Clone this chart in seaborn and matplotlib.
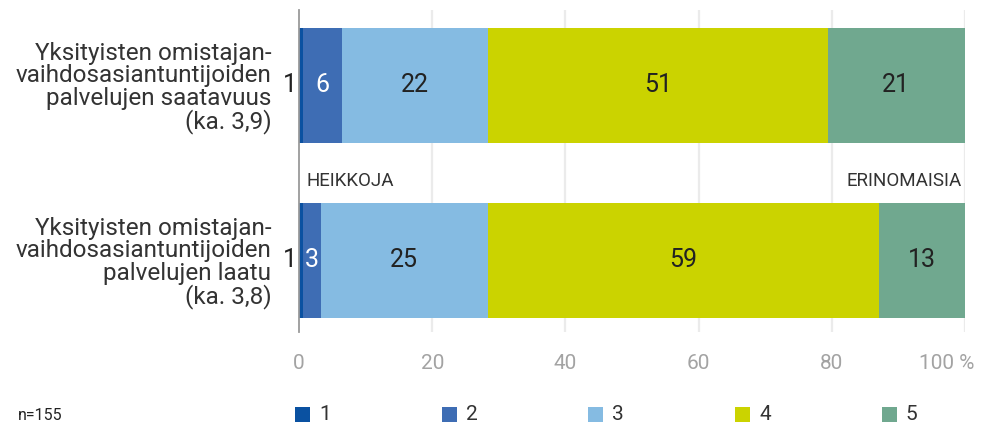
import pandas as pd
import seaborn as sns
import matplotlib.pyplot as plt
import matplotlib.transforms as mtransforms
from matplotlib.patches import Rectangle

categories = [
    "Yksityisten omistajan-\nvaihdosasiantuntijoiden\npalvelujen saatavuus\n(ka. 3,9)",
    "Yksityisten omistajan-\nvaihdosasiantuntijoiden\npalvelujen laatu\n(ka. 3,8)",
]
levels = ["1", "2", "3", "4", "5"]
share_saatavuus = [0.65, 5.81, 21.94, 50.97, 20.65]
share_laatu = [0.65, 2.58, 25.16, 58.71, 12.90]
labels_saatavuus = ["1", "6", "22", "51", "21"]
labels_laatu = ["1", "3", "25", "59", "13"]
colors = ["#0a51a1", "#3e6db4", "#85bbe2", "#cbd300", "#70a88f"]
x_ticks = [0, 20, 40, 60, 80, 100]
x_tick_labels = ["0", "20", "40", "60", "80", "100 %"]

sns.set_theme(style="white")
plt.rcParams["font.family"] = ["Roboto", "DejaVu Sans"]

rows = []
for cat, shares, labs in [(categories[0], share_saatavuus, labels_saatavuus),
                          (categories[1], share_laatu, labels_laatu)]:
    cum = 0
    for lev, s, lab in zip(levels, shares, labs):
        cum += s
        rows.append({"category": cat, "level": lev, "share": s, "cum": cum, "label": lab})
df = pd.DataFrame(rows)

fig = plt.figure(figsize=(9.89, 4.3), dpi=100)
ax = fig.add_axes([299 / 989, 1 - 332 / 430, 666 / 989, 322 / 430])

# stacked bars: draw cumulative totals from the top level down
for i in reversed(range(len(levels))):
    sub = df[df["level"] == levels[i]]
    sns.barplot(data=sub, x="cum", y="category", order=categories, color=colors[i],
                saturation=1, errorbar=None, width=0.657, linewidth=0, ax=ax)

ax.set_xlim(0, 100)
ax.set_ylim(1.409, -0.431)
ax.set_xlabel("")
ax.set_ylabel("")

for sp in ["top", "right", "bottom"]:
    ax.spines[sp].set_visible(False)
ax.spines["left"].set_color("#9a9a9a")
ax.spines["left"].set_linewidth(1.3)

for x in x_ticks[1:]:
    ax.axvline(x, color="#ebebeb", lw=1.6, zorder=0)

ax.set_xticks(x_ticks)
ax.set_xticklabels(x_tick_labels, fontsize=15, color="#a3a3a3")
ax.tick_params(axis="x", length=0, pad=16)
last = ax.get_xticklabels()[-1]
last.set_transform(last.get_transform() + mtransforms.ScaledTranslation(-18 / 100, 0, fig.dpi_scale_trans))

ax.set_yticks(range(len(categories)))
ax.set_yticklabels(categories, fontsize=17.5, color="#333333", linespacing=0.98, ha="right")
ax.tick_params(axis="y", length=0, pad=20)

# value labels
for j, cat in enumerate(categories):
    sub = df[df["category"] == cat]
    for i, (_, r) in enumerate(sub.iterrows()):
        if i == 0:
            ax.text(-0.3, j, r["label"], ha="right", va="center", fontsize=18, color="#222222")
        else:
            xc = r["cum"] - r["share"] / 2
            col = "white" if i == 1 else "#222222"
            ax.text(xc, j, r["label"], ha="center", va="center", fontsize=18, color=col)

ax.text(1.2, 0.545, "HEIKKOJA", ha="left", va="center", fontsize=13.5, color="#333333")
ax.text(99.5, 0.545, "ERINOMAISIA", ha="right", va="center", fontsize=13.5, color="#333333")

# legend
for k, lev in enumerate(levels):
    x0 = 295 + k * 146.7
    fig.add_artist(Rectangle((x0 / 989, 1 - 422 / 430), 15 / 989, 15 / 430,
                             transform=fig.transFigure, color=colors[k], lw=0))
    fig.text((x0 + 24) / 989, 1 - 415 / 430, lev, ha="left", va="center",
             fontsize=15, color="#333333")

fig.text(18 / 989, 1 - 415 / 430, "n=155", ha="left", va="center", fontsize=11.5, color="#222222")

fig.savefig("out.png", dpi=100)
